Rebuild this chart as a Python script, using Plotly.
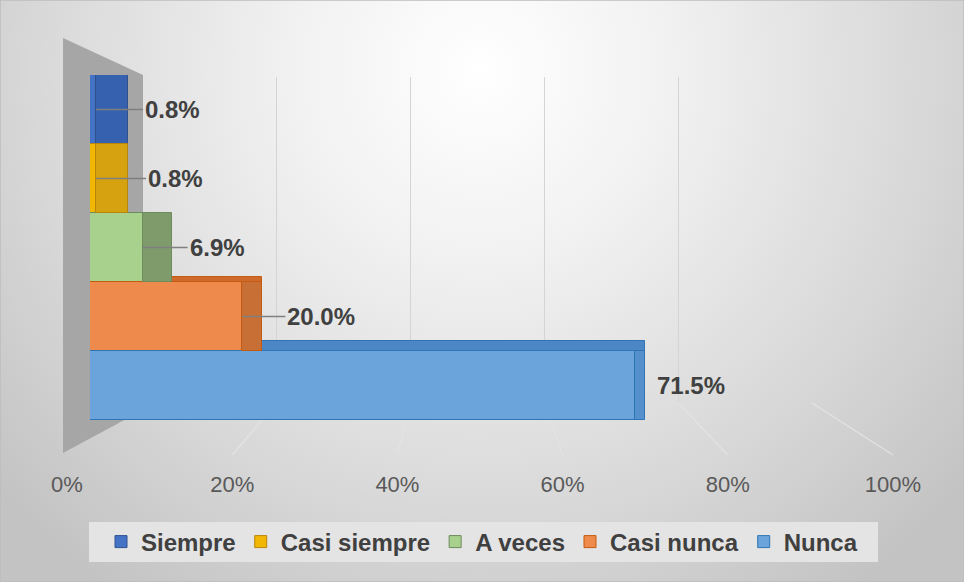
import base64
import plotly.graph_objects as go

# ---------------- data ----------------
CATEGORIES = ["Siempre", "Casi siempre", "A veces", "Casi nunca", "Nunca"]
VALUES = [0.008, 0.008, 0.069, 0.200, 0.715]
TICK_VALUES = [0, 0.2, 0.4, 0.6, 0.8, 1.0]
TICK_LABELS = ["0%", "20%", "40%", "60%", "80%", "100%"]

# ---------------- styles ----------------
FRONT_COLORS = ["#4472C4", "#F2B705", "#A9D18E", "#EE8A4B", "#6AA4DB"]
SIDE_COLORS = ["#3661AE", "#D6A20F", "#7F9B6C", "#C86F36", "#5590CD"]
TOP_COLORS = ["#3661AE", "#D6A20F", "#7F9B6C", "#CF6A2C", "#4C86C4"]
EDGE_COLORS = ["#2F528F", "#B8860B", "#6E8B5C", "#C55A11", "#2E75B6"]
SIDE_DEPTH_PX = [32, 32, 29, 20, 10]
TOP_DEPTH_PX = [0, 0, 0, 5, 10]
LABEL_AX = [47, 50, 45, 43, None]
TEXT_DARK = "#404040"
FONT = "Liberation Sans, Arial, sans-serif"

W, H = 964, 582


def fx(px):
    return px / W


def fy(py):
    return 1 - py / H


BAR_X = (90, 852)     # pixel span of 0..100% on the front (bar) axis
BAR_Y = (75, 420)
GRID_X = (143, 812)   # back wall span of 0..100%
GRID_Y = (77, 403)
TICK_X = (67, 893)    # tick label span on floor front edge
TICK_AXIS_Y = 469
FLOOR_FRONT_Y = 455
LEGEND_BOX = (89, 522, 878, 562)
PX_PER_X = BAR_X[1] - BAR_X[0]
PX_PER_Y = (BAR_Y[1] - BAR_Y[0]) / len(CATEGORIES)

POS = list(range(len(CATEGORIES)))

# background radial gradient
svg = f"""<svg xmlns='http://www.w3.org/2000/svg' width='{W}' height='{H}'>
<defs><radialGradient id='g' gradientUnits='userSpaceOnUse' cx='480' cy='70' r='640'>
<stop offset='0' stop-color='#ffffff'/><stop offset='0.3' stop-color='#f1f1f1'/>
<stop offset='0.68' stop-color='#d9d9d9'/><stop offset='1' stop-color='#c3c3c3'/>
</radialGradient></defs>
<rect width='{W}' height='{H}' fill='url(#g)'/></svg>"""
bg_uri = "data:image/svg+xml;base64," + base64.b64encode(svg.encode()).decode()

fig = go.Figure()

# subplot 1: back wall gridlines (dummy trace)
fig.add_trace(go.Scatter(x=[None], y=[None], xaxis="x", yaxis="y",
                         showlegend=False, hoverinfo="skip"))

# subplot 2: bars -- top faces first (so bars above can cover them)
for i, (p, v) in enumerate(zip(POS, VALUES)):
    if TOP_DEPTH_PX[i] <= 0:
        continue
    h = TOP_DEPTH_PX[i] / PX_PER_Y
    fig.add_trace(go.Bar(
        y=[p - 0.5 - h / 2], x=[v + SIDE_DEPTH_PX[i] / PX_PER_X], width=[h],
        orientation="h", xaxis="x2", yaxis="y2", showlegend=False, hoverinfo="skip",
        marker=dict(color=TOP_COLORS[i], line=dict(color=EDGE_COLORS[i], width=1)),
    ))
for i, (p, cat, v) in enumerate(zip(POS, CATEGORIES, VALUES)):
    fig.add_trace(go.Bar(
        y=[p], x=[v], orientation="h", name=cat, width=[1],
        xaxis="x2", yaxis="y2",
        marker=dict(color=FRONT_COLORS[i], line=dict(color=EDGE_COLORS[i], width=1)),
        legendrank=i + 1,
    ))
for i, (p, v) in enumerate(zip(POS, VALUES)):
    fig.add_trace(go.Bar(
        y=[p], x=[SIDE_DEPTH_PX[i] / PX_PER_X], base=[v], orientation="h", width=[1],
        xaxis="x2", yaxis="y2", showlegend=False, hoverinfo="skip",
        marker=dict(color=SIDE_COLORS[i], line=dict(color=EDGE_COLORS[i], width=1)),
    ))

# subplot 3: tick labels (dummy trace)
fig.add_trace(go.Scatter(x=[None], y=[None], xaxis="x3", yaxis="y3",
                         showlegend=False, hoverinfo="skip"))

# data labels with leader lines
label_font = dict(family=FONT, size=24, color=TEXT_DARK, weight="bold")
annotations = []
for i, (p, v) in enumerate(zip(POS, VALUES)):
    txt = f"{v * 100:.1f}%"
    if LABEL_AX[i] is None:
        annotations.append(dict(
            x=v, y=p, xref="x2", yref="y2", text=txt, showarrow=False,
            xanchor="left", xshift=20, font=label_font))
    else:
        annotations.append(dict(
            x=v, y=p, xref="x2", yref="y2", text=txt, showarrow=True,
            arrowhead=0, arrowwidth=1.5, arrowcolor="#7f7f7f", standoff=0,
            ax=LABEL_AX[i], ay=0, xanchor="left", font=label_font))

# decorative 3D shapes: side wall, floor lines, legend box, frame
shapes = []
wall = (f"M {fx(63)} {fy(38)} L {fx(GRID_X[0])} {fy(75)} "
        f"L {fx(GRID_X[0])} {fy(410)} L {fx(63)} {fy(453)} Z")
shapes.append(dict(type="path", path=wall, xref="paper", yref="paper",
                   fillcolor="#a6a6a6", line=dict(width=0), layer="below"))
for t in TICK_VALUES[1:]:
    xb = GRID_X[0] + t * (GRID_X[1] - GRID_X[0])
    xf = TICK_X[0] + t * (TICK_X[1] - TICK_X[0])
    shapes.append(dict(type="line", xref="paper", yref="paper",
                       x0=fx(xb), y0=fy(GRID_Y[1]), x1=fx(xf), y1=fy(FLOOR_FRONT_Y),
                       line=dict(color="#e3e3e3", width=1.2), layer="below"))
shapes.append(dict(type="rect", xref="paper", yref="paper",
                   x0=fx(LEGEND_BOX[0]), y0=fy(LEGEND_BOX[3]),
                   x1=fx(LEGEND_BOX[2]), y1=fy(LEGEND_BOX[1]),
                   fillcolor="#e4e4e4", line=dict(width=0), layer="below"))
shapes.append(dict(type="rect", xref="paper", yref="paper", x0=0, y0=0, x1=1, y1=1,
                   line=dict(color="#bdbdbd", width=1.5), fillcolor="rgba(0,0,0,0)"))

fig.update_layout(
    template="none",
    width=W, height=H,
    margin=dict(l=0, r=0, t=0, b=0, pad=0, autoexpand=False),
    paper_bgcolor="#e6e6e6",
    plot_bgcolor="rgba(0,0,0,0)",
    barmode="overlay", bargap=0,
    images=[dict(source=bg_uri, xref="paper", yref="paper", x=0, y=1,
                 sizex=1, sizey=1, sizing="stretch", layer="below",
                 xanchor="left", yanchor="top")],
    xaxis=dict(domain=[fx(GRID_X[0]), fx(GRID_X[1])], range=[0, 1], anchor="y",
               tickvals=TICK_VALUES, showticklabels=False, showgrid=True,
               gridcolor="#d4d4d4", gridwidth=1.2, zeroline=False, showline=False,
               ticks="", automargin=False, fixedrange=True),
    yaxis=dict(domain=[fy(GRID_Y[1]), fy(GRID_Y[0])], range=[0, 1], anchor="x",
               visible=False, automargin=False, fixedrange=True),
    xaxis2=dict(domain=[fx(BAR_X[0]), fx(BAR_X[1])], range=[0, 1], anchor="y2",
                visible=False, automargin=False, fixedrange=True),
    yaxis2=dict(domain=[fy(BAR_Y[1]), fy(BAR_Y[0])],
                range=[len(CATEGORIES) - 0.5, -0.5], anchor="x2",
                tickvals=POS, ticktext=CATEGORIES,
                visible=False, automargin=False, fixedrange=True),
    xaxis3=dict(domain=[fx(TICK_X[0]), fx(TICK_X[1])], range=[0, 1], anchor="y3",
                tickvals=TICK_VALUES, ticktext=TICK_LABELS, showgrid=False,
                zeroline=False, showline=False, ticks="", automargin=False,
                tickfont=dict(family=FONT, size=22, color="#595959"), fixedrange=True),
    yaxis3=dict(domain=[fy(TICK_AXIS_Y), fy(TICK_AXIS_Y - 4)], range=[0, 1],
                anchor="x3", visible=False, automargin=False, fixedrange=True),
    legend=dict(orientation="h", x=0.5, xanchor="center",
                y=fy((LEGEND_BOX[1] + LEGEND_BOX[3]) / 2), yanchor="middle",
                bgcolor="rgba(0,0,0,0)", itemwidth=30,
                font=dict(family=FONT, size=24, color=TEXT_DARK, weight="bold"),
                itemclick=False, itemdoubleclick=False),
    annotations=annotations,
    shapes=shapes,
    showlegend=True,
)

fig.write_html(
    "out.html",
    config={"displayModeBar": False},
    post_script="document.body.style.margin='0';document.body.style.overflow='hidden';",
)
